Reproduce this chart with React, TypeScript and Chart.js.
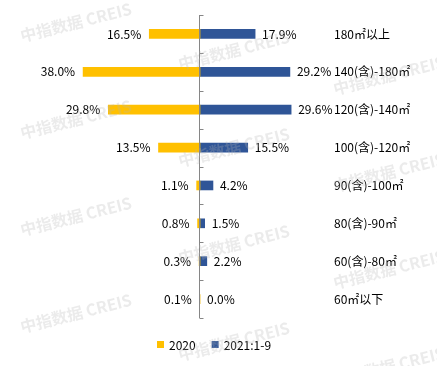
import React, { useEffect, useRef } from "react";
import { Chart, registerables } from "chart.js";
Chart.register(...registerables);

const categories = ["180㎡以上", "140(含)-180㎡", "120(含)-140㎡", "100(含)-120㎡", "90(含)-100㎡", "80(含)-90㎡", "60(含)-80㎡", "60㎡以下"];
const values2020 = [16.5, 38.0, 29.8, 13.5, 1.1, 0.8, 0.3, 0.1];
const values2021 = [17.9, 29.2, 29.6, 15.5, 4.2, 1.5, 2.2, 0.0];
const seriesNames = ["2020", "2021:1-9"];
const seriesColors = ["#FFC000", "#2F5597"];
const watermarkText = "中指数据 CREIS";

const FONT = "'Noto Sans CJK SC', 'Noto Sans', sans-serif";

export default function App() {
  const ref = useRef<HTMLCanvasElement>(null);
  useEffect(() => {
    const plugin = {
      id: "butterfly",
      afterDatasetsDraw(chart: any) {
        const ctx = chart.ctx as CanvasRenderingContext2D;
        const x = chart.scales.x;
        const y = chart.scales.y;
        const area = chart.chartArea;
        const x0 = Math.round(x.getPixelForValue(0)) - 0.5;
        ctx.save();
        // axis line and ticks
        ctx.strokeStyle = "#868686";
        ctx.lineWidth = 1;
        ctx.beginPath();
        ctx.moveTo(x0, area.top);
        ctx.lineTo(x0, area.bottom);
        const n = categories.length;
        const band = (area.bottom - area.top) / n;
        for (let k = 0; k <= n; k++) {
          const yy = Math.round(area.top + k * band) + 0.5;
          ctx.moveTo(x0, yy);
          ctx.lineTo(x0 + 4, yy);
        }
        ctx.stroke();
        // value labels
        ctx.font = `12px ${FONT}`;
        ctx.fillStyle = "#000";
        ctx.textBaseline = "middle";
        for (let i = 0; i < n; i++) {
          const cy = y.getPixelForValue(i);
          const lx = x.getPixelForValue(-values2020[i]);
          ctx.textAlign = "right";
          ctx.fillText(values2020[i].toFixed(1) + "%", lx - 8, cy);
          const rx = x.getPixelForValue(values2021[i]);
          ctx.textAlign = "left";
          ctx.fillText(values2021[i].toFixed(1) + "%", rx + 7, cy);
          ctx.fillText(categories[i], 334, cy);
        }
        // legend
        let lx = 157;
        const ly = 345;
        for (let s = 0; s < seriesNames.length; s++) {
          ctx.fillStyle = seriesColors[s];
          ctx.fillRect(lx, ly - 4, 7, 7);
          lx += 12;
          ctx.fillStyle = "#000";
          ctx.textAlign = "left";
          ctx.fillText(seriesNames[s], lx, ly);
          lx += ctx.measureText(seriesNames[s]).width + 16;
        }
        // watermarks
        ctx.font = `bold 16px ${FONT}`;
        ctx.fillStyle = "rgba(180,180,180,0.27)";
        ctx.textAlign = "left";
        ctx.textBaseline = "alphabetic";
        const cols = [22, 180, 335];
        const starts = [42, 70, 95];
        for (let c = 0; c < cols.length; c++) {
          for (let k = -1; k < 4; k++) {
            ctx.save();
            ctx.translate(cols[c], starts[c] + k * 97);
            ctx.rotate(-14 * Math.PI / 180);
            ctx.fillText(watermarkText, 0, 0);
            ctx.restore();
          }
        }
        ctx.restore();
      },
    };
    const chart = new Chart(ref.current as HTMLCanvasElement, {
      type: "bar",
      data: {
        labels: categories,
        datasets: [
          { label: seriesNames[0], data: values2020.map((v) => -v), backgroundColor: seriesColors[0], barThickness: 9 },
          { label: seriesNames[1], data: values2021, backgroundColor: seriesColors[1], barThickness: 9 },
        ],
      },
      options: {
        indexAxis: "y",
        responsive: false,
        maintainAspectRatio: false,
        animation: false,
        layout: { padding: { left: 0, right: 0, top: 15, bottom: 48 } },
        scales: {
          x: { display: false, min: -65, max: 77, stacked: true },
          y: { display: false, stacked: true },
        },
        plugins: { legend: { display: false }, tooltip: { enabled: false } },
      },
      plugins: [plugin],
    } as any);
    return () => chart.destroy();
  }, []);
  return (
    <div style={{ position: "fixed", left: 0, top: 0, width: 437, height: 366, background: "#fff" }}>
      <canvas ref={ref} width={437} height={366} style={{ display: "block" }} />
    </div>
  );
}
